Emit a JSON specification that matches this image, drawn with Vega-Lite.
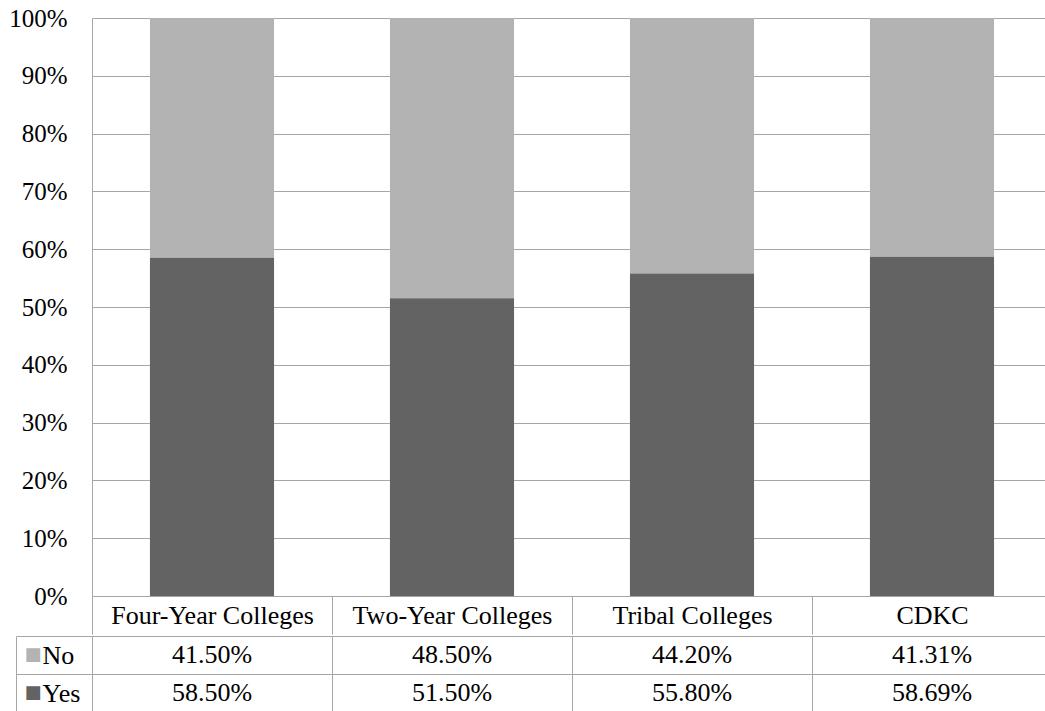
{
  "$schema": "https://vega.github.io/schema/vega-lite/v6.json",
  "padding": {"left": 8, "top": 6, "right": 0, "bottom": 0},
  "background": "white",
  "config": {
    "view": {"stroke": null},
    "font": "Liberation Serif",
    "axis": {"labelFont": "Liberation Serif", "labelColor": "black", "labelFontSize": 26, "title": null}
  },
  "data": {
    "values": [
      {"category": "Four-Year Colleges", "answer": "No", "value": 0.415},
      {"category": "Four-Year Colleges", "answer": "Yes", "value": 0.585},
      {"category": "Two-Year Colleges", "answer": "No", "value": 0.485},
      {"category": "Two-Year Colleges", "answer": "Yes", "value": 0.515},
      {"category": "Tribal Colleges", "answer": "No", "value": 0.442},
      {"category": "Tribal Colleges", "answer": "Yes", "value": 0.558},
      {"category": "CDKC", "answer": "No", "value": 0.4131},
      {"category": "CDKC", "answer": "Yes", "value": 0.5869}
    ]
  },
  "spacing": -12,
  "vconcat": [
    {
      "width": 960,
      "height": 578,
      "mark": {"type": "bar", "width": {"band": 0.517}},
      "encoding": {
        "x": {
          "field": "category", "type": "nominal",
          "sort": ["Four-Year Colleges", "Two-Year Colleges", "Tribal Colleges", "CDKC"],
          "scale": {"paddingInner": 0, "paddingOuter": 0},
          "axis": {
            "labelAngle": 0, "tickBand": "extent", "tickSize": 38, "tickColor": "#a6a6a6",
            "domainColor": "#a6a6a6", "labelPadding": -19, "labelBaseline": "middle",
            "labelLimit": 0, "labelAlign": "center", "labelFont": "Liberation Serif", "labelFontSize": 26
          }
        },
        "y": {
          "field": "value", "type": "quantitative", "stack": "zero",
          "scale": {"domain": [0, 1], "nice": false},
          "axis": {
            "format": ".0%", "values": [0, 0.1, 0.2, 0.3, 0.4, 0.5, 0.6, 0.7, 0.8, 0.9, 1],
            "grid": true, "gridColor": "#a6a6a6", "ticks": false, "domainColor": "#a6a6a6",
            "labelPadding": 25, "labelFont": "Liberation Serif", "labelFontSize": 25
          }
        },
        "color": {
          "field": "answer", "type": "nominal",
          "scale": {"domain": ["No", "Yes"], "range": ["#b3b3b3", "#636363"]},
          "legend": null
        },
        "order": {"field": "answer", "sort": "descending"}
      }
    },
    {
      "width": 960,
      "height": 76,
      "resolve": {"axis": {"y": "independent"}},
      "layer": [
        {
          "mark": {"type": "text", "font": "Liberation Serif", "fontSize": 26, "baseline": "middle", "color": "black"},
          "encoding": {
            "x": {
              "field": "category", "type": "nominal",
              "sort": ["Four-Year Colleges", "Two-Year Colleges", "Tribal Colleges", "CDKC"],
              "scale": {"paddingInner": 0, "paddingOuter": 0},
              "axis": {"labels": false, "ticks": false, "domain": false, "grid": true, "tickBand": "extent", "gridColor": "#a6a6a6"}
            },
            "y": {
              "field": "answer", "type": "nominal",
              "scale": {"domain": ["No", "Yes"], "paddingInner": 0, "paddingOuter": 0},
              "axis": {
                "orient": "left", "tickBand": "extent", "tickSize": 76, "tickColor": "#a6a6a6",
                "domainColor": "#a6a6a6", "grid": true, "gridColor": "#a6a6a6",
                "labelAlign": "left", "labelPadding": -26, "labelBaseline": "middle",
                "labelFont": "Liberation Serif", "labelFontSize": 26
              }
            },
            "text": {"field": "value", "type": "quantitative", "format": ".2%"}
          }
        },
        {
          "mark": {"type": "text", "opacity": 0},
          "encoding": {
            "x": {
              "field": "category", "type": "nominal",
              "sort": ["Four-Year Colleges", "Two-Year Colleges", "Tribal Colleges", "CDKC"]
            },
            "y": {
              "field": "answer", "type": "nominal",
              "axis": {
                "orient": "left", "offset": 76, "ticks": false, "grid": false,
                "domainColor": "#a6a6a6", "labelExpr": "'■'", "labelFont": "DejaVu Sans",
                "labelFontSize": 18, "labelAlign": "left", "labelPadding": -8, "labelBaseline": "middle",
                "labelColor": {"condition": {"test": "datum.value === 'No'", "value": "#b3b3b3"}, "value": "#636363"}
              }
            },
            "text": {"value": ""}
          }
        }
      ]
    }
  ]
}
